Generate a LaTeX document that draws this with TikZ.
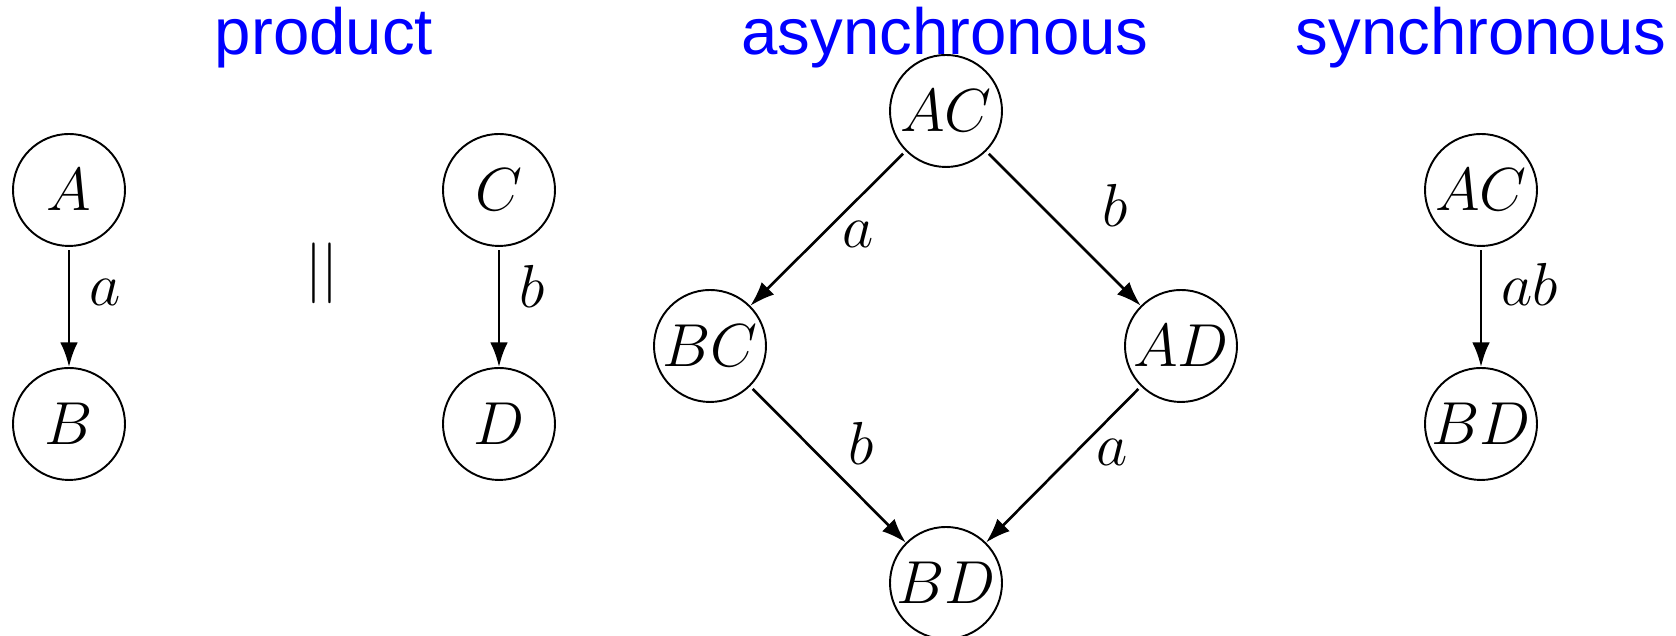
\documentclass[tikz,border=0pt]{standalone}
\usepackage{fontspec}
\newfontfamily\headfont{Liberation Sans}
\usetikzlibrary{arrows.meta}
\definecolor{headblue}{HTML}{0000FF}

\begin{document}
\begin{tikzpicture}[
		st/.style={circle, draw, line width=0.55pt, minimum size=1.12cm, inner sep=0pt, font=\fontsize{18}{22}\selectfont},
		arr/.style={line width=0.75pt, -{Latex[length=7pt,width=5pt]}, shorten <=1pt},
		lbl/.style={font=\fontsize{18}{22}\selectfont, inner sep=5.5pt},
		head/.style={headblue, font=\headfont\fontsize{18.6}{22}\selectfont, anchor=base}]
		\useasboundingbox (0,0) rectangle (16.76,6.36);

		% headings
		\node[head] (tprod) at (3.24,5.81) {product};
		\node[head] (tasync) at (9.45,5.81) {asynchronous};
		\node[head] (tsync) at (14.81,5.81) {synchronous};

		% states of the two components, the product, and the synchronised run
		\foreach \n/\x/\y/\t in {A/0.69/4.46/A, B/0.69/2.12/B, C/4.99/4.46/C, D/4.99/2.12/D,
				aAC/9.46/5.25/AC, aBC/7.10/2.90/BC, aAD/11.81/2.90/AD, aBD/9.46/0.53/BD,
				sAC/14.81/4.46/AC, sBD/14.81/2.12/BD} {
				\node[st] (\n) at (\x,\y) {$\t$};
			}

		% parallel composition sign
		\node[lbl] (par) at (3.22,3.63) {$||$};

		% component transitions
		\draw[arr] (A) -- node[lbl, right, pos=.38] {$a$} (B);
		\draw[arr] (C) -- node[lbl, right, pos=.33] {$b$} (D);

		% interleaving
		\draw[arr] (aAC) -- node[lbl, right, pos=.54] {$a$} (aBC);
		\draw[arr] (aAC) -- node[lbl, above right, pos=.62] {$b$} (aAD);
		\draw[arr] (aBC) -- node[lbl, anchor=base west, pos=.5] {$b$} (aBD);
		\draw[arr] (aAD) -- node[lbl, right, pos=.42] {$a$} (aBD);

		% joint step
		\draw[arr] (sAC) -- node[lbl, right, pos=.31] {$ab$} (sBD);
	\end{tikzpicture}
\end{document}
